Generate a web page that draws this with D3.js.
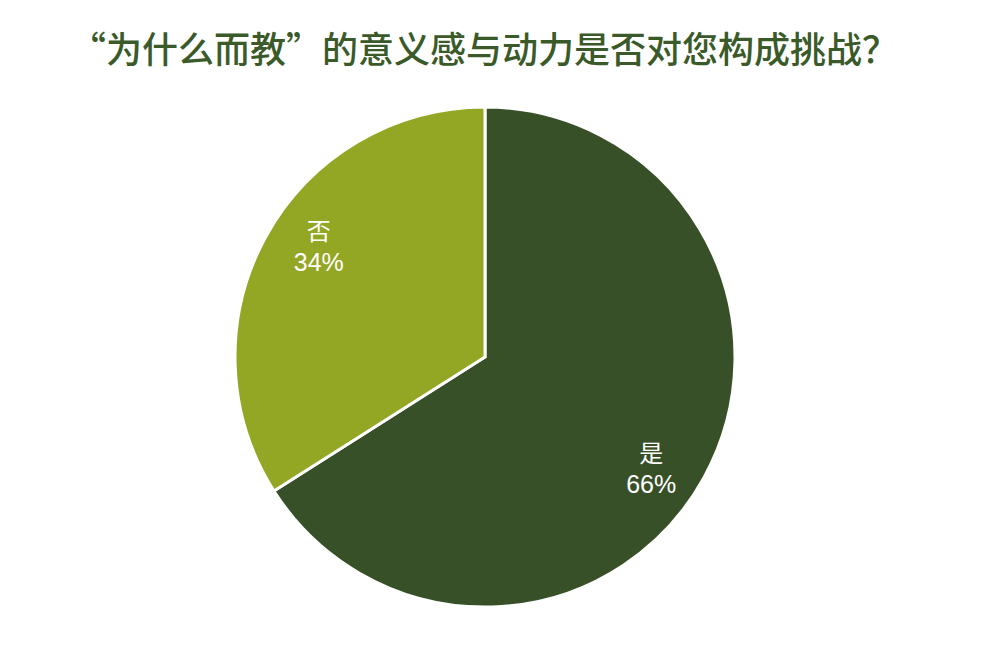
<!DOCTYPE html>
<html>
<head>
<meta charset="utf-8">
<script src="https://cdn.jsdelivr.net/npm/d3@7"></script>
<style>
  body { margin: 0; background: #fff; }
</style>
</head>
<body>
<svg id="svg"></svg>
<script>
const categories = ['是', '否'];
const values = [66, 34];
const colours = ['#375028', '#94a724'];
const title = '“为什么而教”的意义感与动力是否对您构成挑战？';

const width = 992;
const height = 645;
const cx = 485, cy = 357, radius = 250;

const svg = d3.select('#svg')
  .attr('width', width)
  .attr('height', height);

// TITLE
svg.append('text')
  .attr('x', 484)
  .attr('y', 63)
  .attr('text-anchor', 'middle')
  .attr('font-family', '"Noto Sans CJK SC", sans-serif')
  .attr('font-size', 36)
  .attr('font-weight', 500)
  .attr('fill', '#3b5a2a')
  .text(title);

const data = categories.map((c, i) => ({ name: c, value: values[i] }));

const pie = d3.pie().sort(null).value(d => d.value);
const arc = d3.arc().innerRadius(0).outerRadius(radius);
const labelArc = d3.arc().innerRadius(radius * 0.8).outerRadius(radius * 0.8);
const labelShift = 0.087; // labels sit a little clockwise of the slice middle

const g = svg.append('g')
  .attr('transform', `translate(${cx}, ${cy})`);

g.selectAll('path')
  .data(pie(data))
  .enter()
  .append('path')
  .attr('d', arc)
  .attr('fill', (d, i) => colours[i])
  .attr('stroke', '#fff')
  .attr('stroke-width', 3);

const labels = g.selectAll('.slice-label')
  .data(pie(data))
  .enter()
  .append('text')
  .attr('class', 'slice-label')
  .attr('transform', d => `translate(${labelArc.centroid({
    startAngle: d.startAngle + labelShift,
    endAngle: d.endAngle + labelShift
  })})`)
  .attr('text-anchor', 'middle')
  .attr('fill', '#fff')
  .attr('font-size', 24)
  .attr('font-family', '"Noto Sans CJK SC", "Liberation Sans", sans-serif');

labels.append('tspan')
  .attr('x', 0)
  .attr('y', -6)
  .text(d => d.data.name);

labels.append('tspan')
  .attr('x', 0)
  .attr('y', 25)
  .attr('font-size', 25)
  .attr('font-family', '"Liberation Sans", Arial, sans-serif')
  .text(d => d.data.value + '%');
</script>
</body>
</html>
